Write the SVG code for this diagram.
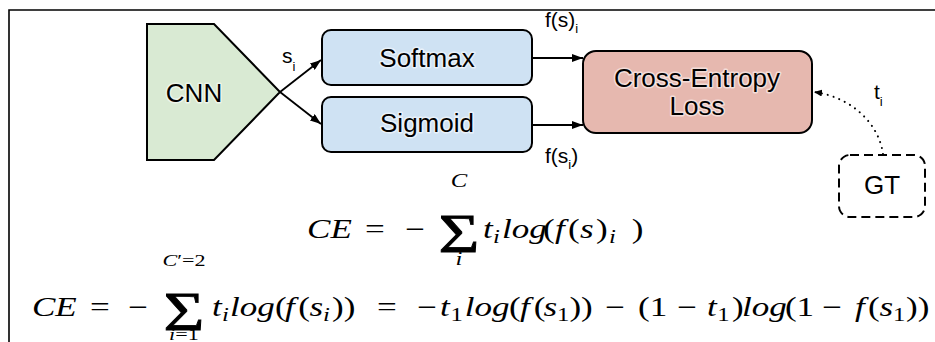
<svg xmlns="http://www.w3.org/2000/svg" width="935" height="342" viewBox="0 0 935 342">
<defs>
<style>
.node{stroke:#000;stroke-width:2}
.lbl{font-family:"Liberation Sans",Arial,sans-serif;font-size:26px;fill:#000;text-anchor:middle;paint-order:stroke;stroke:#fff;stroke-width:3;stroke-opacity:.55;stroke-linejoin:round}
.sm{font-family:"Liberation Sans",Arial,sans-serif;fill:#000;font-size:21px}
.edge{stroke:#000;stroke-width:1.8;fill:none}
.math{font-family:"Liberation Serif","Times New Roman",serif;font-size:27px;fill:#000}
.it{font-style:italic}
.sig{font-size:54px;text-anchor:middle;stroke:#000;stroke-width:0.8}
</style>
<marker id="ah" markerUnits="userSpaceOnUse" markerWidth="11" markerHeight="8" refX="11" refY="4" orient="auto">
<path d="M0,0 L11,4 L0,8 z" fill="#000"/>
</marker>
<marker id="ah2" markerUnits="userSpaceOnUse" markerWidth="8" markerHeight="7" refX="8" refY="3.5" orient="auto">
<path d="M0,0 L8,3.5 L0,7 z" fill="#000"/>
</marker>
</defs>
<rect width="935" height="342" fill="#fff"/>
<path d="M9,342 V10 H935" fill="none" stroke="#000" stroke-width="1.6"/>

<g id="connectors">
<path class="edge" d="M280,92 L321,60" marker-end="url(#ah)"/>
<path class="edge" d="M280,92 L321,124" marker-end="url(#ah)"/>
<path class="edge" d="M532,58 L583,58" marker-end="url(#ah)"/>
<path class="edge" d="M532,125 L583,125" marker-end="url(#ah)"/>
<path d="M883,154 C879,124 852,97 814,92" fill="none" stroke="#000" stroke-width="2" stroke-dasharray="0.1 6" stroke-linecap="round" marker-end="url(#ah2)"/>
<text class="sm" x="282" y="63">s<tspan font-size="13" dy="8">i</tspan></text>
<text class="sm" x="545" y="27">f(s)<tspan font-size="13" dy="6">i</tspan></text>
<text class="sm" x="545" y="163">f(s<tspan font-size="13" dy="6">i</tspan><tspan dy="-6">)</tspan></text>
<text class="sm" x="874" y="99">t<tspan font-size="13" dy="7">i</tspan></text>
</g>

<g id="cnn">
<polygon class="node" points="147,24 214,24 280,92 214,160 147,160" fill="#d9ead3"/>
<text class="lbl" x="194" y="102">CNN</text>
</g>
<g id="softmax">
<rect class="node" x="322" y="30" width="210" height="55" rx="9" fill="#cfe2f3"/>
<text class="lbl" x="427" y="67">Softmax</text>
</g>
<g id="sigmoid">
<rect class="node" x="322" y="97" width="210" height="55" rx="9" fill="#cfe2f3"/>
<text class="lbl" x="427" y="132">Sigmoid</text>
</g>
<g id="loss">
<rect class="node" x="583" y="51" width="229" height="82" rx="13" fill="#e6b8af"/>
<text class="lbl" x="697" y="87">Cross-Entropy</text>
<text class="lbl" x="697" y="115">Loss</text>
</g>
<g id="gt">
<rect x="839" y="155" width="86" height="62" rx="11" fill="none" stroke="#000" stroke-width="2" stroke-dasharray="9 5"/>
<text class="lbl" x="882" y="194" font-size="24">GT</text>
</g>

<g id="formulas" class="math" transform="scale(1.3 1)">
<text y="238"><tspan class="it" x="236.2">CE</tspan><tspan x="280.8">=</tspan><tspan x="311.5">−</tspan><tspan class="it" x="371.5">t</tspan><tspan class="it" x="379.2" y="243" font-size="19">i</tspan><tspan class="it" x="386.2" y="238">log</tspan><tspan x="417.7">(</tspan><tspan class="it" x="426.9">f</tspan><tspan x="436.9">(</tspan><tspan class="it" x="446.2">s</tspan><tspan x="458.5">)</tspan><tspan class="it" x="468.5" y="243" font-size="19">i</tspan><tspan x="486" y="238">)</tspan></text>
<text class="sig" x="353.1" y="252">Σ</text>
<text class="it" x="353.1" y="187" font-size="19" text-anchor="middle">C</text>
<text class="it" x="353.1" y="265" font-size="19" text-anchor="middle">i</text>

<text y="316"><tspan class="it" x="24.6">CE</tspan><tspan x="69.2">=</tspan><tspan x="98.5">−</tspan><tspan class="it" x="163.1">t</tspan><tspan class="it" x="170.8" y="321" font-size="19">i</tspan><tspan class="it" x="176.9" y="316">log</tspan><tspan x="211.5">(</tspan><tspan class="it" x="219.2">f</tspan><tspan x="229.5">(</tspan><tspan class="it" x="238">s</tspan><tspan class="it" x="248.5" y="321" font-size="19">i</tspan><tspan x="255.4" y="316">))</tspan><tspan x="290">=</tspan><tspan x="320.8">−</tspan><tspan class="it" x="338.5">t</tspan><tspan x="346.5" y="321" font-size="19">1</tspan><tspan class="it" x="357.5" y="316">log</tspan><tspan x="391.5">(</tspan><tspan class="it" x="400">f</tspan><tspan x="410.5">(</tspan><tspan class="it" x="418">s</tspan><tspan x="428.5" y="321" font-size="19">1</tspan><tspan x="438" y="316">))</tspan><tspan x="465.4">−</tspan><tspan x="490.8">(1</tspan><tspan x="520.8">−</tspan><tspan class="it" x="543.8">t</tspan><tspan x="551.8" y="321" font-size="19">1</tspan><tspan x="563.1" y="316">)</tspan><tspan class="it" x="570.8">log</tspan><tspan x="603.8">(1</tspan><tspan x="632.3">−</tspan><tspan class="it" x="657.7">f</tspan><tspan x="667.7">(</tspan><tspan class="it" x="676.5">s</tspan><tspan x="687" y="321" font-size="19">1</tspan><tspan x="697" y="316">))</tspan></text>
<text class="sig" x="141.5" y="330">Σ</text>
<text x="141.5" y="266" font-size="17" text-anchor="middle"><tspan class="it">C</tspan>′=2</text>
<text x="141.5" y="340" font-size="17" text-anchor="middle"><tspan class="it">i</tspan>=1</text>
</g>
</svg>
